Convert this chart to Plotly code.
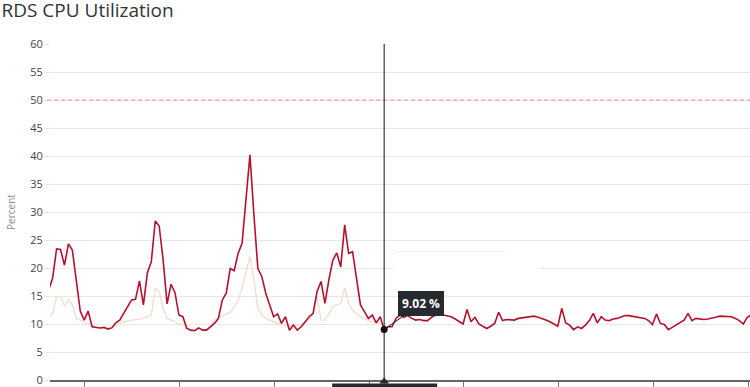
import plotly.graph_objects as go
import pandas as pd

# ---- data ----
start_time = "2023-01-01 14:48"
cpu_current = [
    16.1, 18.2, 23.4, 23.3, 20.5, 24.3, 23.2, 17.9, 12.3, 10.7,
    12.3, 9.5, 9.4, 9.3, 9.4, 9.1, 9.3, 10.2, 10.7, 11.9,
    13.1, 14.3, 14.4, 17.7, 13.4, 19.1, 21.1, 28.4, 27.5, 21.4,
    13.6, 17.1, 15.6, 11.6, 11.3, 9.2, 8.9, 8.8, 9.3, 8.9,
    8.9, 9.5, 10.1, 11.0, 14.3, 15.5, 19.9, 19.5, 22.6, 24.4,
    32.1, 40.2, 29.5, 19.9, 18.5, 15.5, 13.4, 11.3, 11.8, 10.1,
    11.3, 8.9, 9.8, 8.9, 9.5, 10.4, 11.3, 11.9, 15.8, 17.6,
    13.7, 17.9, 21.4, 22.7, 20.2, 27.7, 22.6, 22.9, 17.9, 13.4,
    12.2, 11.0, 11.6, 10.2, 11.3, 9.02, 9.5, 9.5, 11.0, 11.6,
    11.2, 11.5, 11.0, 10.7, 10.8, 10.6, 10.6, 11.2, 11.6, 11.9,
    11.6, 11.4, 11.3, 10.9, 10.4, 10.0, 12.6, 10.4, 11.2, 10.0,
    9.6, 9.2, 9.6, 10.1, 12.1, 10.6, 10.8, 10.7, 10.7, 11.0,
    11.1, 11.3, 11.4, 11.4, 11.2, 11.0, 10.7, 10.4, 10.0, 9.6,
    12.8, 10.2, 9.8, 9.0, 9.5, 9.2, 9.8, 10.6, 11.9, 10.2,
    11.3, 10.7, 10.6, 10.9, 11.0, 11.2, 11.5, 11.5, 11.4, 11.3,
    11.2, 11.0, 10.6, 9.9, 11.8, 10.1, 9.9, 9.0, 9.4, 9.8,
    10.2, 10.7, 11.9, 10.6, 11.0, 10.9, 10.8, 10.9, 11.0, 11.2,
    11.4, 11.4, 11.4, 11.3, 11.0, 10.6, 10.0, 11.2, 11.6,
]
cpu_previous = [
    11.2, 11.9, 14.9, 14.9, 13.2, 14.4, 13.4, 11.0, 10.7, 10.2,
    10.0, 9.7, 9.4, 9.3, 9.3, 9.2, 9.4, 9.8, 10.1, 10.4,
    10.6, 10.7, 10.8, 10.9, 11.0, 11.3, 11.6, 16.4, 15.8, 12.8,
    11.0, 10.7, 10.4, 9.9, 10.0, 9.3, 9.0, 8.9, 9.2, 9.0,
    9.1, 9.6, 10.7, 11.1, 11.4, 11.8, 12.1, 13.0, 14.2, 16.5,
    19.5, 22.1, 17.9, 12.8, 11.6, 11.0, 10.7, 10.4, 10.1, 9.9,
    9.8, 9.6, 9.7, 9.8, 9.9, 10.2, 10.8, 11.6, 14.9, 10.7,
    10.7, 11.8, 13.1, 13.4, 13.7, 16.4, 13.7, 12.5, 11.8, 11.3,
    10.9, 10.6, 10.4, 10.3, 10.0, 9.5,
]
threshold = 50
hover_index = 85
hover_label = "9.02 %"
y_ticks = list(range(0, 61, 5))

times = pd.date_range(start_time, periods=len(cpu_current), freq="h")
times_prev = times[:len(cpu_previous)]
x_start = times[0] + pd.Timedelta(minutes=20)
x_end = times[0] + pd.Timedelta(hours=177, minutes=42)
day_ticks = pd.date_range("2023-01-02", periods=8, freq="D")

fig = go.Figure()
fig.add_trace(go.Scatter(x=times_prev, y=cpu_previous, mode="lines",
                         line=dict(color="#f3dccf", width=1.3),
                         hoverinfo="skip", showlegend=False))
fig.add_trace(go.Scatter(x=times, y=cpu_current, mode="lines",
                         line=dict(color="#b3122e", width=1.6),
                         hoverinfo="skip", showlegend=False))

hx = times[hover_index]
hy = cpu_current[hover_index]
fig.add_trace(go.Scatter(x=[hx], y=[hy], mode="markers",
                         marker=dict(color="#111", size=7),
                         hoverinfo="skip", showlegend=False))

span = (x_end - x_start)
def to_paper(t):
    return (t - x_start) / span

hp = to_paper(hx)
px_per_paper = 700.0

shapes = [
    # threshold line
    dict(type="line", xref="paper", yref="y", x0=-0.004, x1=1, y0=threshold, y1=threshold,
         line=dict(color="#e88a99", width=1, dash="4px,3px"), layer="above"),
    # white patch left by an old tooltip over gridline 20
    dict(type="rect", xref="paper", yref="paper", x0=(393 - 50) / 700, x1=(540 - 50) / 700,
         y0=(380 - 274) / 336, y1=(380 - 262) / 336, fillcolor="white", line=dict(width=0), layer="above"),
    dict(type="line", xref="paper", yref="paper", x0=(395 - 50) / 700, x1=(505 - 50) / 700,
         y0=(380 - 251.5) / 336, y1=(380 - 251.5) / 336, line=dict(color="#f2f2f2", width=1), layer="above"),
    # crosshair
    dict(type="line", xref="paper", yref="paper", x0=hp, x1=hp, y0=-0.03, y1=1,
         line=dict(color="#111", width=1)),
    # x-label box of the crosshair (cut at the bottom)
    dict(type="rect", xref="paper", yref="paper", x0=hp - 52 / px_per_paper, x1=hp + 53 / px_per_paper,
         y0=-0.06, y1=-3.5 / 336, fillcolor="#262a30", line=dict(width=0)),
    dict(type="path", xref="paper", yref="paper",
         path=f"M {hp - 5/700} {-3.5/336} L {hp} {2.5/336} L {hp + 5/700} {-3.5/336} Z",
         fillcolor="#262a30", line=dict(width=0)),
]

fig.update_layout(
    width=750, height=387,
    margin=dict(l=50, r=0, t=44, b=7, autoexpand=False),
    paper_bgcolor="white", plot_bgcolor="white",
    font=dict(family="Open Sans, sans-serif", color="#444", size=11),
    title=dict(text="RDS CPU Utilization", x=1.5 / 750, xref="container", xanchor="left",
               y=1 - 10.5 / 387, yref="container", yanchor="middle",
               font=dict(size=19, color="#333", family="Open Sans, sans-serif")),
    xaxis=dict(range=[x_start, x_end], showgrid=False, zeroline=False,
               tickvals=day_ticks, ticks="outside", ticklen=5, tickcolor="#777",
               showline=True, linecolor="#666", linewidth=1.5,
               showticklabels=False, automargin=False, fixedrange=True),
    yaxis=dict(range=[0, 60], tickvals=y_ticks, showgrid=True, gridcolor="#e8e8e8",
               gridwidth=1, zeroline=False, ticks="outside", ticklen=4, tickcolor="#e0e0e0",
               tickfont=dict(size=11, color="#444"),
               title=dict(text="Percent", font=dict(size=10, color="#8a8a8a"), standoff=12),
               automargin=False, fixedrange=True),
    shapes=shapes,
    annotations=[dict(x=hx, y=hy, xref="x", yref="y", text=f"<b>{hover_label}</b>",
                      showarrow=True, arrowhead=0, arrowwidth=1, arrowcolor="#111",
                      ax=37, ay=-26, bgcolor="#262a30", bordercolor="#262a30",
                      borderpad=3, font=dict(color="white", size=12))],
    showlegend=False,
)

fig.write_html("out.html", config={"displayModeBar": False, "staticPlot": True})
